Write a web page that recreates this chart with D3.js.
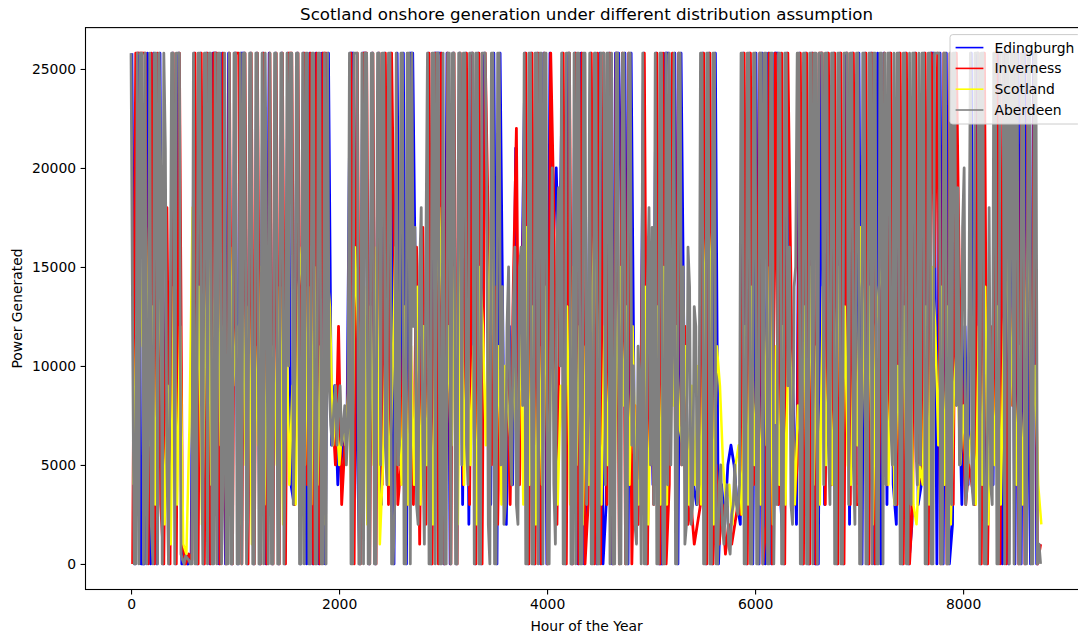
<!DOCTYPE html>
<html><head><meta charset="utf-8">
<script src="https://cdn.jsdelivr.net/npm/d3@7"></script>
<style>
html,body{margin:0;padding:0;background:#fff;}
svg{display:block;font-family:"DejaVu Sans",sans-serif;}
</style></head><body>
<svg id="chart" width="1078" height="637"></svg>
<script>
const seriesNames = ["Edingburgh", "Inverness", "Scotland", "Aberdeen"];
const seriesColors = ["#0000ff", "#ff0000", "#ffff00", "#808080"];
const sampleStepHours = [30, 30, 30, 15];
const sampleOffsetHours = [8, 15, 22, 0];
const xTicks = [0, 2000, 4000, 6000, 8000];
const yTicks = [0, 5000, 10000, 15000, 20000, 25000];
const titleText = "Scotland onshore generation under different distribution assumption";
const xLabelText = "Hour of the Year";
const yLabelText = "Power Generated";

// Power generated, in thousands
// Edingburgh / Inverness / Scotland: one sample every 30 hours
const edingburghK = [
25.8,0,25.8,0,0,25.8,0,25.8,0,25.8,
0,15,0,25.8,0,25.8,0,0.5,0,0.5,
25.8,0,25.8,0,25.8,0,25.8,25.8,0,25.8,
0,25.8,0,25.8,0,25.8,25.8,0,25.8,0,
25.8,0,25.8,0,25.8,0,25.8,0,25.8,0,
25.8,4,3,25.8,0,25.8,0,25.8,0,25.8,
0,25.8,0,25.8,6,9,4,7,5,8,
25.8,25.8,8,0,25.8,25.8,0,25.8,0,25.8,
3,25.8,4,25.8,0,25.8,5,25.8,0,25.8,
25.8,12,4,15,3,25.8,0,25.8,25.8,25.8,
0,25.8,0,25.8,0,25.8,3,25.8,2,25.8,
0,25.8,0,25.8,16,3,25.8,0,25.8,10,
2,12,4,21,5,14,25.8,0,25.8,0,
25.8,0,25.8,0,25.8,16,20,14,25.8,0,
25.8,0,25.8,0,25.8,0,4,25.8,13,0,
25.8,0,3,25.8,0,25.8,25.8,16,25.8,0,
25.8,7,2,6,25.8,0,14,4,25.8,0,
0,25.8,25.8,16,25.8,0,25.8,10,3,8,
4,3,5,25.8,0,25.8,0,25.8,0,4,
2,5,6,5,3,2,25.8,0,25.8,0,
25.8,0,25.8,0,25.8,0,25.8,25.8,3,0,
25.8,12,8,2,25.8,0,25.8,0,25.8,0,
0,25.8,3,25.8,4,25.8,0,25.8,0,25.8,
2,25.8,4,25.8,0,25.8,0,25.8,0,25.8,
0,25.8,3,25.8,4,2,25.8,0,25.8,0,
2,25.8,3,4,25.8,0,25.8,25.8,0,25.8,
0,25.8,0,2,25.8,10,3,12,4,25.8,
3,25.8,0,25.8,0,9,4,25.8,25.8,0,
25.8,0,25.8,0,25.8,0,25.8,13,0,25.8,
0,1
];
const invernessK = [
0,25.8,25.8,25.8,25.8,0,25.8,0,25.8,3,
0,18,0,25.8,0,25.8,1,0,0.5,0.2,
25.8,0,25.8,0,25.8,0,25.8,25.8,0,25.8,
0,25.8,0,25.8,25.8,0,25.8,0,25.8,0,
25.8,0,25.8,0,25.8,0,25.8,0,25.8,0,
25.8,25.8,3,25.8,3,25.8,4,25.8,0,25.8,
0,25.8,25.8,11,8,5,12,3,6,8,
25.8,0,25.8,0,25.8,25.8,0,25.8,0,25.8,
4,25.8,3,25.8,14,3,5,13,3,11,
3,16,1,17,2,25.8,0,25.8,0,25.8,
0,25.8,0,25.8,0,25.8,4,25.8,3,25.8,
0,25.8,0,25.8,17,5,14,2,12,6,
10,3,14,22,4,15,25.8,0,25.8,0,
25.8,0,25.8,0,25.8,18,2,15,25.8,0,
25.8,0,25.8,0,25.8,0,3,25.8,0,25.8,
0,25.8,3,25.8,0,25.8,0,25.8,0,25.8,
0,8,2,10,25.8,0,16,3,25.8,0,
25.8,0,4,25.8,6,25.8,5,12,2,3,
1,2,3,25.8,0,25.8,0,5,1,3,
0.5,2,1,2,3,2.5,25.8,0,25.8,4,
8,25.8,0,2,25.8,0,25.8,3,25.8,0,
25.8,14,3,5,25.8,0,25.8,0,25.8,0,
25.8,25.8,3,25.8,4,25.8,0,25.8,0,25.8,
3,25.8,3,3,12,25.8,0,25.8,0,3,
13,25.8,4,25.8,5,3,25.8,0,25.8,0,
3,25.8,4,6,25.8,0,25.8,15,25.8,0,
25.8,0,25.8,3,25.8,14,8,3,5,4,
3,25.8,0,25.8,0,12,6,25.8,0,25.8,
0,14,8,25.8,0,25.8,0,25.8,3,25.8,
0,1
];
const scotlandK = [
4,12,16,11,17,6,13,3,15,10,
2,9,1,14,3,12,1,0.5,7,18,
5,14,2,11,16,4,13,15,6,12,
3,16,9,12,2,14,5,13,1,11,
6,15,3,12,8,11,5,14,2,13,
4,9,3,14,16,5,14,3,15,4,
11,2,15,13,6,8,5,7,6,9,
3,16,12,4,14,2,13,5,16,1,
5,12,4,9,16,8,4,13,3,11,
4,14,3,12,5,10,2,14,18,13,
3,12,6,15,2,17,4,13,5,11,
2,15,12,6,14,19,4,11,3,10,
8,6,10,5,12,3,17,4,13,2,
11,4,14,2,12,8,3,9,6,13,
3,15,5,12,2,11,4,13,18,9,
3,12,5,14,2,11,15,8,13,4,
12,5,3,9,14,2,10,6,13,3,
15,3,15,8,12,7,6,11,3,9,
4,10,3,14,18,15,2,11,9,5,
3,4,2,5,6,2.5,12,3,14,5,
10,3,13,6,15,2,11,4,12,3,
12,9,3,8,6,13,2,15,4,11,
3,14,5,12,4,10,15,3,13,5,
4,12,6,17,12,3,14,2,12,14,
15,12,4,12,3,10,5,13,2,11,
3,2,5,4,13,3,15,12,6,14,
4,13,2,9,11,5,8,4,6,7,
3,12,4,14,2,10,5,13,3,12,
16,8,13,4,11,3,12,17,6,10,
4,2
];
// Aberdeen: one sample every 15 hours
const aberdeenK = [
25.8,12,0,0,25.8,0,25.8,25.8,0,25.8,0,6,25.8,2,0,25.8,25.8,0,25.8,20,
0,25.8,21,5,0,10,25.8,25.8,0,25.8,25.8,25.8,0.5,0.2,0,0.4,0.3,0.2,0,0,
25.8,0,0,25.8,25.8,9,0,25.8,25.8,0,25.8,25.8,0,0,25.8,0,25.8,25.8,0,4,
25.8,0,0,25.8,0,0,25.8,25.8,0,0,25.8,0,25.8,25.8,0,3,25.8,25.8,0,0,
25.8,25.8,0,0,25.8,0,25.8,14,0,25.8,0,0,25.8,25.8,0,0,25.8,25.8,0,7,
25.8,10,25.8,25.8,3,8,25.8,25.8,0,0,25.8,0,25.8,25.8,0,0,25.8,25.8,0,0,
25.8,25.8,0,0,25.8,0,25.8,9,7,6,8,9,6,8,9,6,7,8,5,7,
25.8,0,0,25.8,25.8,25.8,0,0,25.8,0,25.8,25.8,0,0,25.8,25.8,0,0,25.8,25.8,
5,25.8,25.8,6,4,25.8,25.8,0,0,3,25.8,5,6,25.8,25.8,0,0,25.8,25.8,0,
25.8,12,17,3,2,15,18,6,1,16,25.8,0,0,25.8,25.8,0,25.8,25.8,0,0,
25.8,0,0,25.8,25.8,0,25.8,25.8,0,0,25.8,25.8,5,25.8,25.8,6,4,25.8,25.8,25.8,
0,25.8,25.8,0,0,25.8,25.8,25.8,19,2,0,25.8,25.8,0,0,25.8,25.8,5,14,2,
3,12,15,6,4,13,16,3,2,15,16,8,25.8,0,0,25.8,25.8,0,0,25.8,
25.8,0,25.8,25.8,0,25.8,25.8,0,0,12,20,4,1,16,19,10,25.8,0,0,25.8,
25.8,25.8,0,0,25.8,0,25.8,25.8,0,0,25.8,25.8,3,8,25.8,0,0,25.8,25.8,0,
0,25.8,25.8,25.8,4,25.8,25.8,0,25.8,0,0,25.8,25.8,0,0,25.8,25.8,0,0,25.8,
25.8,6,10,2,1,11,9,0,25.8,0,0,14,18,5,17,3,25.8,0,0,25.8,
25.8,0,0,25.8,4,25.8,5,12,25.8,0,0,25.8,25.8,5,15,1,2,16,14,2,
3,13,12,3,4,25.8,25.8,0,0,25.8,25.8,0,0,25.8,25.8,0,0,4,5,2,
1,3,4,1,0.5,2.5,3,5,3,2.5,4,25.8,25.8,0,0,25.8,25.8,0,0,25.8,
25.8,0,0,25.8,25.8,0,25.8,25.8,0,0,25.8,25.8,0,7,3,25.8,25.8,0,0,25.8,
25.8,9,16,3,2,14,15,25.8,25.8,0,0,25.8,25.8,0,0,25.8,25.8,0,25.8,25.8,
0,25.8,25.8,25.8,4,25.8,25.8,6,3,25.8,25.8,0,0,25.8,25.8,0,0,25.8,25.8,25.8,
3,25.8,25.8,5,2,25.8,25.8,0,0,25.8,25.8,0,0,25.8,25.8,0,25.8,25.8,0,0,
25.8,25.8,0,25.8,4,25.8,25.8,7,5,25.8,3,25.8,25.8,0,0,25.8,25.8,0,0,25.8,
3,25.8,25.8,6,4,25.8,5,25.8,25.8,0,0,25.8,25.8,0,0,25.8,25.8,25.8,25.8,0,
0,25.8,25.8,0,0,25.8,3,25.8,25.8,8,19,5,6,17,20,3,4,12,25.8,4,
3,25.8,25.8,25.8,0,25.8,25.8,0,0,7,18,4,3,25.8,25.8,0,0,25.8,25.8,25.8,
0,25.8,25.8,0,25.8,25.8,0,25.8,25.8,0,0,25.8,25.8,0,0,25.8,25.8,0,0,25.8,
25.8,0,1,0
];
const seriesValuesK = [edingburghK, invernessK, scotlandK, aberdeenK];
const seriesStrokeWidths = [2.8, 2.8, 2.5, 2.8];

// ---- layout (matplotlib-like) ----
const plot = {left: 85.5, right: 1087.6, top: 27.6, bottom: 589.5};
const hourExtent = [0, 8759];
const powerExtent = [0, 25800];
const padX = (hourExtent[1] - hourExtent[0]) * 0.05;
const padY = (powerExtent[1] - powerExtent[0]) * 0.05;

const svg = d3.select("#chart");
const x = d3.scaleLinear().domain([hourExtent[0] - padX, hourExtent[1] + padX]).range([plot.left, plot.right]);
const y = d3.scaleLinear().domain([powerExtent[0] - padY, powerExtent[1] + padY]).range([plot.bottom, plot.top]);

svg.append("defs").append("clipPath").attr("id", "clip")
  .append("rect").attr("x", plot.left).attr("y", plot.top)
  .attr("width", plot.right - plot.left).attr("height", plot.bottom - plot.top);

const series = seriesNames.map((name, s) => ({
  name, color: seriesColors[s], width: seriesStrokeWidths[s],
  points: seriesValuesK[s].map((v, i) => ({hour: sampleOffsetHours[s] + i * sampleStepHours[s], value: v * 1000}))
}));

const line = d3.line().x(d => x(d.hour)).y(d => y(d.value));
const gLines = svg.append("g").attr("clip-path", "url(#clip)");
series.forEach(s => {
  gLines.append("path").datum(s.points)
    .attr("d", line).attr("fill", "none")
    .attr("stroke", s.color).attr("stroke-width", s.width)
    .attr("stroke-linejoin", "round");
});

// axes
const tickFont = 13.9;
const xAxis = d3.axisBottom(x).tickValues(xTicks).tickFormat(d3.format("d")).tickSize(4.9).tickPadding(4.5).tickSizeOuter(0);
const yAxis = d3.axisLeft(y).tickValues(yTicks).tickFormat(d3.format("d")).tickSize(4.9).tickPadding(4.5).tickSizeOuter(0);
const gx = svg.append("g").attr("transform", `translate(0,${plot.bottom})`).call(xAxis);
const gy = svg.append("g").attr("transform", `translate(${plot.left},0)`).call(yAxis);
[gx, gy].forEach(g => {
  g.select(".domain").remove();
  g.selectAll(".tick line").attr("stroke", "#000").attr("stroke-width", 1.1);
  g.selectAll(".tick text").attr("fill", "#000").style("font-size", tickFont + "px").style("font-family", "DejaVu Sans");
});

// spines
svg.append("rect").attr("x", plot.left).attr("y", plot.top)
  .attr("width", plot.right - plot.left).attr("height", plot.bottom - plot.top)
  .attr("fill", "none").attr("stroke", "#000").attr("stroke-width", 1.1);

// title & labels
svg.append("text").attr("x", (plot.left + plot.right) / 2).attr("y", 20)
  .attr("text-anchor", "middle").style("font-size", "16.67px").attr("fill", "#000").text(titleText);
svg.append("text").attr("x", (plot.left + plot.right) / 2).attr("y", 631)
  .attr("text-anchor", "middle").style("font-size", tickFont + "px").attr("fill", "#000").text(xLabelText);
svg.append("text").attr("transform", `translate(22,${(plot.top + plot.bottom) / 2}) rotate(-90)`)
  .attr("text-anchor", "middle").style("font-size", tickFont + "px").attr("fill", "#000").text(yLabelText);

// legend
const lg = svg.append("g");
const lgX = 950, lgY = 34.6, lgW = 130.4, lgH = 89.4, rowGap = 20.8, firstRow = 47.6;
lg.append("rect").attr("x", lgX).attr("y", lgY).attr("width", lgW).attr("height", lgH)
  .attr("rx", 2.8).attr("fill", "#fff").attr("fill-opacity", 0.8)
  .attr("stroke", "#cccccc").attr("stroke-width", 1);
series.forEach((s, k) => {
  const cy = firstRow + k * rowGap;
  lg.append("line").attr("x1", lgX + 5.6).attr("x2", lgX + 5.6 + 27.8).attr("y1", cy).attr("y2", cy)
    .attr("stroke", s.color).attr("stroke-width", 1.6);
  lg.append("text").attr("x", lgX + 5.6 + 27.8 + 11.1).attr("y", cy + 5)
    .style("font-size", tickFont + "px").attr("fill", "#000").text(s.name);
});
</script>
</body></html>
